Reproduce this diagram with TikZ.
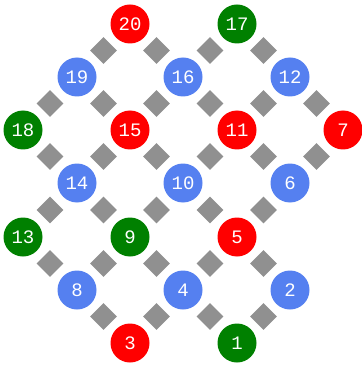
\documentclass[tikz,border=0pt]{standalone}
\usepackage{fontspec}
\setmonofont{Liberation Mono}
\definecolor{cred}{HTML}{FF0000}
\definecolor{cgreen}{HTML}{008000}
\definecolor{cblue}{HTML}{5580F0}
\definecolor{cgray}{HTML}{909090}
\begin{document}
\begin{tikzpicture}[x=1pt,y=-1pt,
  num/.style={circle,minimum size=39pt,inner sep=0pt,text=white,font=\ttfamily\fontsize{19}{19}\selectfont},
  rednode/.style={num,fill=cred},
  greennode/.style={num,fill=cgreen},
  bluenode/.style={num,fill=cblue},
  diam/.style={fill=cgray,rectangle,rotate=45,minimum size=19pt,inner sep=0pt}]
\useasboundingbox (0,0) rectangle (361,366);
\node[rednode] (n20) at (130,24) {20};
\node[greennode] (n17) at (237,24) {17};
\node[bluenode] (n19) at (77,77) {19};
\node[bluenode] (n16) at (183,77) {16};
\node[bluenode] (n12) at (290,77) {12};
\node[greennode] (n18) at (23,130) {18};
\node[rednode] (n15) at (130,130) {15};
\node[rednode] (n11) at (237,130) {11};
\node[rednode] (n7) at (343,130) {7};
\node[bluenode] (n14) at (77,183) {14};
\node[bluenode] (n10) at (183,183) {10};
\node[bluenode] (n6) at (290,183) {6};
\node[greennode] (n13) at (23,237) {13};
\node[greennode] (n9) at (130,237) {9};
\node[rednode] (n5) at (237,237) {5};
\node[bluenode] (n8) at (77,290) {8};
\node[bluenode] (n4) at (183,290) {4};
\node[bluenode] (n2) at (290,290) {2};
\node[rednode] (n3) at (130,343) {3};
\node[greennode] (n1) at (237,343) {1};
\foreach \a/\b in {20/19,20/16,17/16,17/12,
  19/18,19/15,16/15,16/11,12/11,12/7,
  18/14,15/14,15/10,11/10,11/6,7/6,
  14/13,14/9,10/9,10/5,6/5,
  13/8,9/8,9/4,5/4,5/2,
  8/3,4/3,4/1,2/1}
  \path (n\a.center) -- node[diam] {} (n\b.center);
\end{tikzpicture}
\end{document}
